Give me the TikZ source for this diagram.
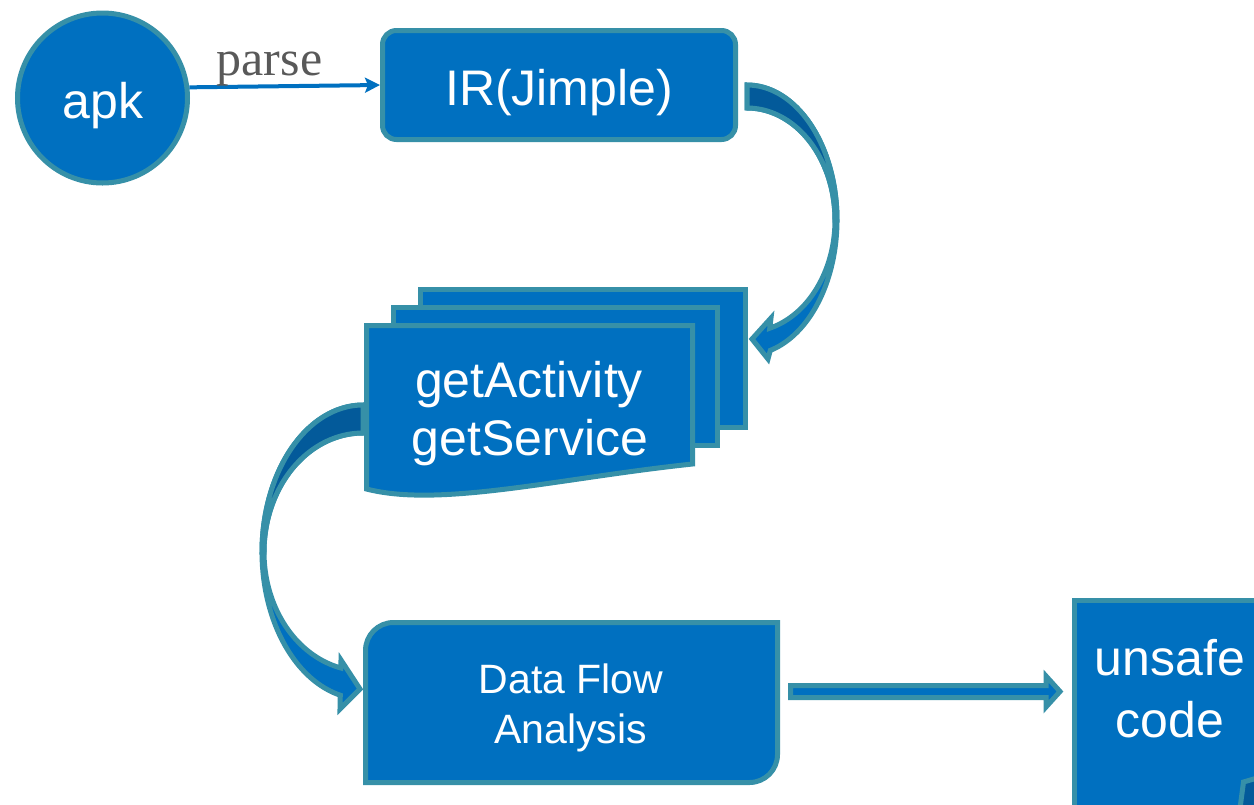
\documentclass[tikz,border=0pt]{standalone}
\usepackage{fontspec}
\setmainfont{Liberation Sans}
\newfontfamily\parsefont{Liberation Serif}
\usetikzlibrary{arrows.meta,calc}
\definecolor{fillblue}{HTML}{0070C0}
\definecolor{edgeteal}{HTML}{3690A8}
\definecolor{darkblue}{HTML}{035A9A}
\definecolor{labelgray}{HTML}{595959}

\begin{document}
\begin{tikzpicture}[x=1pt,y=-1pt,
  line join=miter,
  shapebox/.style={fill=fillblue, draw=edgeteal, line width=5pt},
  underside/.style={fill=darkblue, draw=edgeteal, line width=5pt},
  ghost/.style={inner sep=0pt, outer sep=0pt},
  lbl/.style={text=white, anchor=base, inner sep=0pt},
  big/.style={font=\fontsize{50}{60}\selectfont},
  mid/.style={font=\fontsize{41}{50}\selectfont}]
\useasboundingbox (0,0) rectangle (1254,804);

% curved block arrow: IR -> document stack (sweeps out to the right)
\path[shapebox]
  plot[domain=-90:75,samples=90,variable=\t] ({747+90*cos(\t)},{220+135*sin(\t)})
  -- (768,359) -- (752,339) -- (771,318)
  -- plot[domain=75:-90,samples=90,variable=\t] ({747+88*cos(\t)},{220+112*sin(\t)})
  -- cycle;
\path[underside]
  plot[domain=-90:0,samples=60,variable=\t] ({747+90*cos(\t)},{220+135*sin(\t)})
  -- plot[domain=0:-90,samples=60,variable=\t] ({747+88*cos(\t)},{220+112*sin(\t)})
  -- cycle;

% curved block arrow: document stack -> data flow analysis (sweeps out to the left)
\path[shapebox]
  plot[domain=-90:-257,samples=90,variable=\t] ({363+101*cos(\t)},{552+147*sin(\t)})
  -- (340,709) -- (360,689) -- (341,660)
  -- plot[domain=-257:-90,samples=90,variable=\t] ({363+99*cos(\t)},{552+119*sin(\t)})
  -- cycle;
\path[underside]
  plot[domain=-90:-180,samples=60,variable=\t] ({363+101*cos(\t)},{552+147*sin(\t)})
  -- plot[domain=-180:-90,samples=60,variable=\t] ({363+99*cos(\t)},{552+119*sin(\t)})
  -- cycle;

% input and intermediate representation
\node[circle, shapebox, minimum size=170pt, inner sep=0pt] (apk) at (102.5,98) {};
\node[lbl, big] (apktext) at (103,118) {apk};
\node[rectangle, rounded corners=14pt, shapebox, minimum width=353pt,
      minimum height=109pt, inner sep=0pt] (ir) at (559,85) {};
\node[lbl, big] (irtext) at (559,105) {IR(Jimple)};
\draw[draw=fillblue, line width=4pt,
      -{Stealth[length=15pt,width=15pt,inset=3pt]}] (apk.7) -- (ir.west);
\node[lbl, text=labelgray, font=\parsefont\fontsize{50}{60}\selectfont]
  (parse) at (269.5,75) {parse};

% stack of documents
\node[rectangle, shapebox, minimum width=325pt, minimum height=138pt,
      inner sep=0pt] (doc3) at (583,358.5) {};
\node[rectangle, shapebox, minimum width=324pt, minimum height=138pt,
      inner sep=0pt] (doc2) at (555.5,376.5) {};
\path[shapebox] (366.5,325.5) -- (692.5,325.5) -- (692.5,464)
  .. controls (560,478) and (440,508) .. (366.5,489) -- cycle;
\node[lbl, big] (act) at (529,397) {getActivity};
\node[lbl, big] (svc) at (530,455) {getService};

% data flow analysis: rounded top-left and bottom-right corners
\node[ghost, minimum width=412pt, minimum height=160pt] (dfa) at (571.5,702.5) {};
\path[shapebox] (dfa.south west) -- ([yshift=-28pt]dfa.north west)
  arc[start angle=180, end angle=90, radius=28pt] -- (dfa.north east)
  -- ([yshift=28pt]dfa.south east)
  arc[start angle=0, end angle=-90, radius=28pt] -- cycle;
\node[lbl, mid] (dfa1) at (571,693) {Data Flow};
\node[lbl, mid] (dfa2) at (570.5,743) {Analysis};

% straight block arrow to the result
\path[shapebox] (790.5,685.5) -- (1046,685.5) -- (1046,676) -- (1060,691.5)
  -- (1046,707) -- (1046,697.5) -- (790.5,697.5) -- cycle;

% result
\node[rectangle, shapebox, minimum width=200pt, minimum height=230pt,
      inner sep=0pt] (unsafe) at (1174.5,715.5) {};
\node[lbl, big] (uns1) at (1170,675) {unsafe};
\node[lbl, big] (uns2) at (1170,737) {code};
\path[underside] (1239.5,812) -- (1243.5,782) -- (1264,776) -- (1264,812) -- cycle;
\end{tikzpicture}
\end{document}
